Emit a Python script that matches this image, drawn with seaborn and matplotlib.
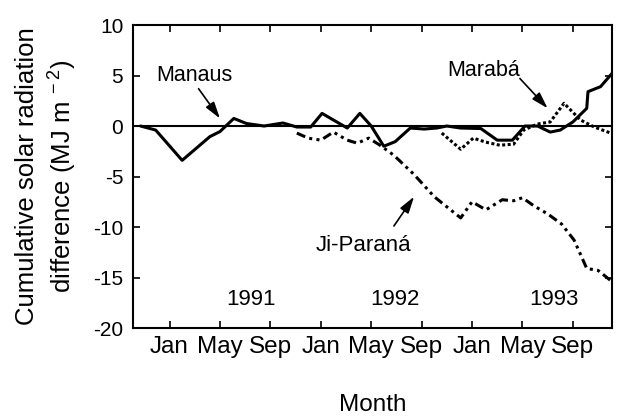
import numpy as np
import pandas as pd
import matplotlib
matplotlib.use("Agg")
import matplotlib.pyplot as plt
import seaborn as sns

# month index: 0 = Jan 1991
manaus_m = [-2.3, -1.1, 1.0, 3.2, 4.0, 5.1, 6.1, 7.5, 9.0, 10.1, 11.2, 12.1, 14.1, 15.1, 16.0,
            17.0, 17.9, 19.1, 20.2, 21.2, 22.0, 23.1, 24.7, 26.0, 27.2, 28.2, 29.2, 30.2, 31.0,
            32.0, 33.1, 33.2, 34.2, 35.1]
manaus_v = [0.0, -0.4, -3.4, -1.05, -0.55, 0.75, 0.25, 0.0, 0.3, -0.1, -0.1, 1.25, -0.2, 1.25, 0.0,
            -2.0, -1.55, -0.2, -0.3, -0.2, 0.0, -0.2, -0.25, -1.4, -1.4, 0.0, 0.0, -0.6, -0.4,
            0.4, 1.75, 3.4, 3.9, 5.2]

jiparana_m = [10.1, 11.0, 12.0, 13.0, 14.1, 14.9, 15.8, 16.7, 17.8, 19.4, 21.0, 22.3, 23.1, 24.0,
              25.1, 26.4, 27.3, 28.0, 28.9, 30.0, 31.1, 32.1, 33.1, 34.0, 35.0]
jiparana_v = [-0.7, -1.2, -1.4, -0.6, -1.4, -1.7, -1.2, -1.9, -2.9, -4.8, -7.0, -8.3, -9.1, -7.5,
              -8.3, -7.3, -7.4, -7.1, -7.9, -8.7, -9.7, -11.3, -14.1, -14.3, -15.3]

maraba_m = [21.6, 23.1, 24.1, 25.1, 26.2, 27.3, 28.1, 29.2, 30.2, 31.3, 32.6, 33.7, 35.0]
maraba_v = [-0.7, -2.3, -1.2, -1.6, -1.9, -1.8, -0.4, 0.2, 0.4, 2.25, 0.6, -0.1, -0.7]

tick_months = [0, 4, 8, 12, 16, 20, 24, 28, 32]
tick_labels = ["Jan", "May", "Sep"] * 3
years = ["1991", "1992", "1993"]
year_pos = [6.5, 17.9, 30.5]

df = pd.concat([
    pd.DataFrame({"month": manaus_m, "value": manaus_v, "station": "Manaus"}),
    pd.DataFrame({"month": jiparana_m, "value": jiparana_v, "station": "Ji-Paraná"}),
    pd.DataFrame({"month": maraba_m, "value": maraba_v, "station": "Marabá"}),
])

sns.set_style("ticks")
plt.rcParams["font.family"] = ["Liberation Sans", "DejaVu Sans"]
plt.rcParams["mathtext.fontset"] = "custom"
plt.rcParams["mathtext.rm"] = "Liberation Sans"
plt.rcParams["mathtext.it"] = "Liberation Sans:italic"
plt.rcParams["axes.unicode_minus"] = False
plt.rcParams["text.color"] = "black"
plt.rcParams["axes.labelcolor"] = "black"
plt.rcParams["xtick.color"] = "black"
plt.rcParams["ytick.color"] = "black"

fig = plt.figure(figsize=(6.2, 4.17), dpi=100)
ax = fig.add_axes([0.2145, 0.2134, 0.7725, 0.7266])

ax.axhline(0, color="black", lw=1.5, zorder=1)
sns.lineplot(data=df, x="month", y="value", style="station", color="black",
             dashes={"Manaus": "", "Marabá": (1, 0.8), "Ji-Paraná": (3, 1.4, 1, 1.4, 1, 1.4)},
             estimator=None, sort=False, legend=False, lw=2.2, ax=ax)

ax.set_xlim(-2.9, 35.1)
ax.set_ylim(-20, 10)
ax.set_xticks(tick_months)
ax.set_xticklabels(tick_labels)
ax.set_yticks([10, 5, 0, -5, -10, -15, -20])
ax.tick_params(direction="in", top=True, right=True, length=5, width=1.2)
ax.tick_params(axis="x", labelsize=17.5, pad=6)
ax.tick_params(axis="y", labelsize=15, pad=7)
for s in ax.spines.values():
    s.set_linewidth(1.5)
    s.set_color("black")

for y, p in zip(years, year_pos):
    ax.text(p, -17.2, y, ha="center", va="center", fontsize=16)

arrow = dict(arrowstyle="-|>,head_length=1.0,head_width=0.3", color="black", lw=1.2,
             shrinkA=0, shrinkB=0)
ax.text(2.0, 5.05, "Manaus", ha="center", va="center", fontsize=15.5)
ax.annotate("", xy=(4.0, 0.75), xytext=(2.3, 3.7), arrowprops=arrow)
ax.text(24.9, 5.5, "Marabá", ha="center", va="center", fontsize=15.5)
ax.annotate("", xy=(30.0, 1.75), xytext=(27.8, 4.7), arrowprops=arrow)
ax.text(15.4, -11.8, "Ji-Paraná", ha="center", va="center", fontsize=16)
ax.annotate("", xy=(19.4, -7.0), xytext=(17.8, -9.9), arrowprops=arrow)

ax.set_xlabel("Month", fontsize=17.5, labelpad=26)
ax.set_ylabel("Cumulative solar radiation\ndifference (MJ m$^{\\ -2}$)", fontsize=18.5,
              labelpad=10, linespacing=1.3)

fig.savefig("out.png", dpi=100, facecolor="white")
